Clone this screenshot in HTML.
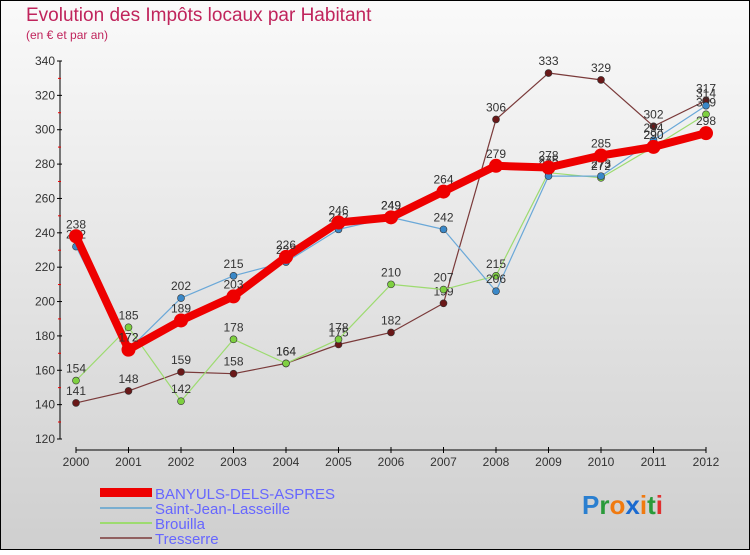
<!DOCTYPE html>
<html><head><meta charset="utf-8"><style>
body{margin:0}
#c{position:relative;width:750px;height:550px;}
svg text{font-family:"Liberation Sans",sans-serif}
</style></head><body>
<div id="c">
<svg id="s" width="750" height="550" xmlns="http://www.w3.org/2000/svg">
<defs><linearGradient id="bg" x1="0" y1="0" x2="0" y2="1"><stop offset="0" stop-color="#fafafa"/><stop offset="1" stop-color="#cfcfcf"/></linearGradient></defs>
<rect x="0.5" y="0.5" width="749" height="549" fill="url(#bg)" stroke="#000"/>
<text x="26" y="21" font-size="19" fill="#c0245c">Evolution des Impôts locaux par Habitant</text>
<text x="26" y="39" font-size="12" fill="#c0245c">(en € et par an)</text>
<g id="axes"></g><g id="series"></g>
<g>
<rect x="100" y="488" width="52" height="9" fill="#e00"/>
<text x="155" y="499" font-size="15" fill="#66f">BANYULS-DELS-ASPRES</text>
<line x1="100" y1="508" x2="152" y2="508" stroke="#7aaed0" stroke-width="2"/>
<text x="155" y="514" font-size="15" fill="#66f">Saint-Jean-Lasseille</text>
<line x1="100" y1="523" x2="152" y2="523" stroke="#9ddb70" stroke-width="2"/>
<text x="155" y="529" font-size="15" fill="#66f">Brouilla</text>
<line x1="100" y1="538" x2="152" y2="538" stroke="#906060" stroke-width="2"/>
<text x="155" y="544" font-size="15" fill="#66f">Tresserre</text>
</g>
<g font-size="26" font-weight="bold">
<text x="582" y="514"><tspan fill="#2a7fd0">P</tspan><tspan fill="#2a9a3a">r</tspan><tspan fill="#f07a10">o</tspan><tspan fill="#1a6ad0">x</tspan><tspan fill="#f07a10">i</tspan><tspan fill="#2a9a3a">t</tspan><tspan fill="#e03030">i</tspan></text>
</g>
</svg></div>
<script>
const years=[2000,2001,2002,2003,2004,2005,2006,2007,2008,2009,2010,2011,2012];
const yTicks=[120,140,160,180,200,220,240,260,280,300,320,340];
const banyuls=[238,172,189,203,226,246,249,264,279,278,285,290,298];
const saintJean=[232,172,202,215,223,242,249,242,206,273,273,294,314];
const brouilla=[154,185,142,178,164,178,210,207,215,275,272,290,309];
const tresserre=[141,148,159,158,164,175,182,199,306,333,329,302,317];
const NS="http://www.w3.org/2000/svg";
const X=i=>76+i*52.5, Y=v=>439-(v-120)*(378/220);
function mk(t,a,p){const e=document.createElementNS(NS,t);for(const k in a)e.setAttribute(k,a[k]);p.appendChild(e);return e;}
const ax=document.getElementById('axes');
const yl=mk('line',{x1:60,y1:61,x2:60,y2:439,stroke:'#000'},ax);


const xl=mk('line',{x1:76,y1:450,x2:706,y2:450,stroke:'#000'},ax);


yTicks.forEach(v=>{const y=Y(v);mk('line',{x1:57,y1:y,x2:62,y2:y,stroke:'#000'},ax);
const t=mk('text',{x:55,y:y+4,'font-size':12,fill:'#333','text-anchor':'end'},ax);t.textContent=v;


if(v<340)mk('line',{x1:58,y1:y-17,x2:61,y2:y-17,stroke:'#e00'},ax);});
years.forEach((yr,i)=>{mk('line',{x1:X(i),y1:447,x2:X(i),y2:453,stroke:'#000'},ax);
const t=mk('text',{x:X(i),y:466,'font-size':12,fill:'#333','text-anchor':'middle'},ax);t.textContent=yr;

});
const sg=document.getElementById('series');
function series(d,name,col,dot,w,r){const g=mk('g',{},sg);


mk('polyline',{points:d.map((v,i)=>X(i)+','+Y(v)).join(' '),fill:'none',stroke:col,'stroke-width':w,'stroke-linejoin':'round'},g);
d.forEach((v,i)=>{const c=mk('circle',{cx:X(i),cy:Y(v),r:r,fill:dot,stroke:'#333','stroke-width':r>5?0:0.6},g);


const t=mk('text',{x:X(i),y:Y(v)-8,'font-size':12,fill:'#333','text-anchor':'middle'},g);t.textContent=v;});}
series(tresserre,'tresserre-line','#7a3a3a','#6a1818',1.2,3.5);
series(brouilla,'brouilla-line','#9ddb70','#7ed040',1.2,3.5);
series(saintJean,'saint-jean-line','#6aa8d8','#3a88c8',1.2,3.5);
series(banyuls,'banyuls-line','#ee0000','#ee0000',8,7);
</script></body></html>
